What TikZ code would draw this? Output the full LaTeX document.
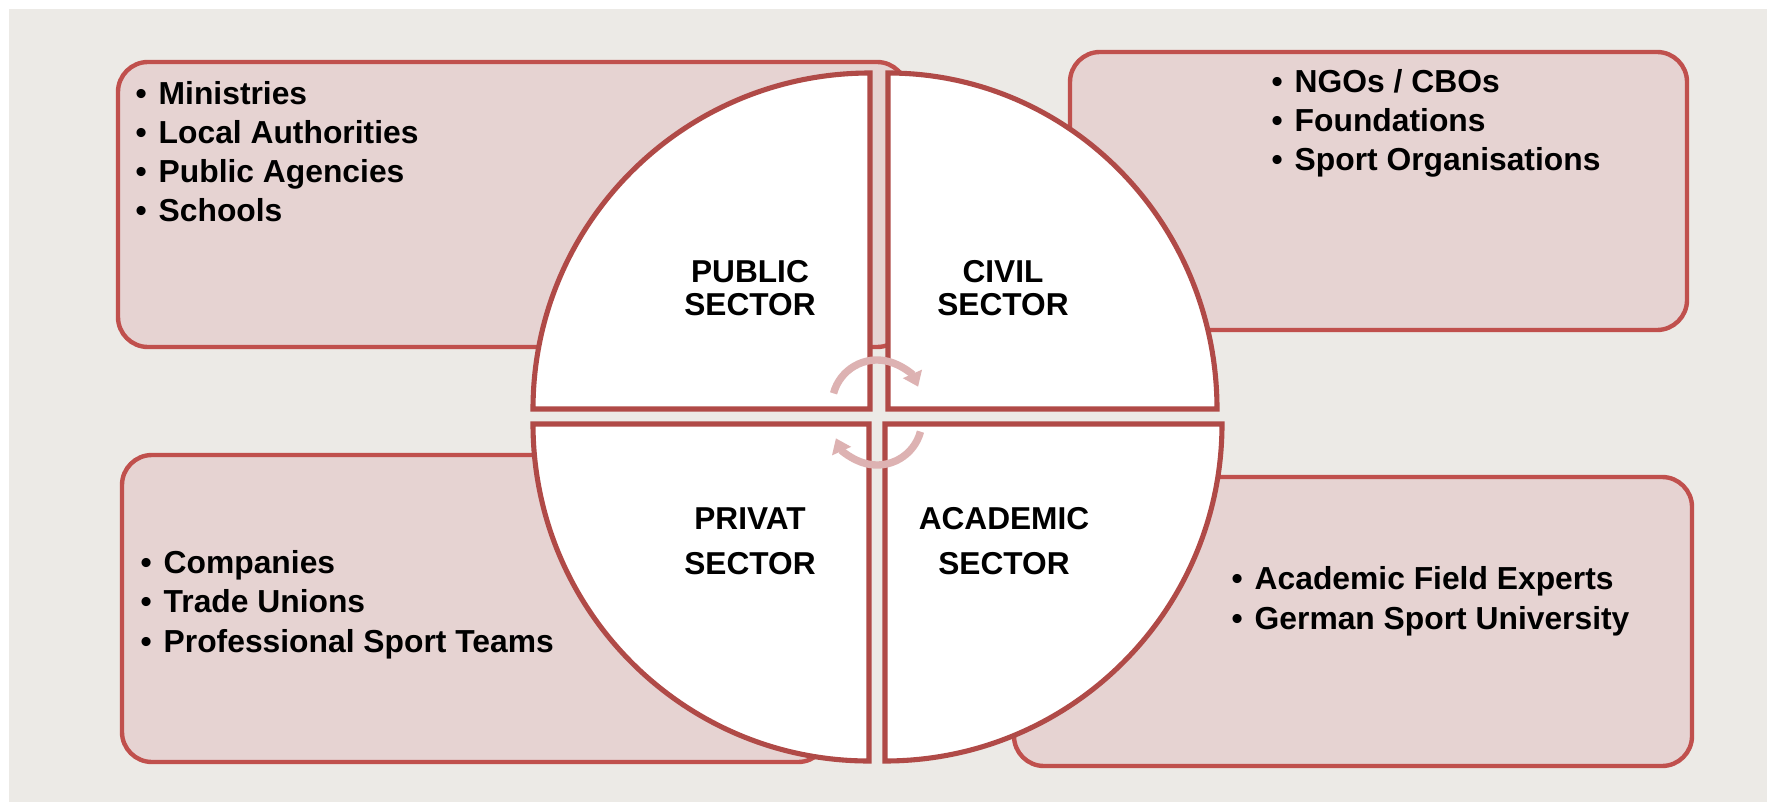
\documentclass[tikz,border=0pt]{standalone}
\usepackage{fontspec}
\setmainfont{Liberation Sans}
\usetikzlibrary{arrows.meta}
\definecolor{bggray}{RGB}{236,234,230}
\definecolor{boxfill}{RGB}{230,211,210}
\definecolor{boxline}{RGB}{192,80,77}
\definecolor{quadline}{RGB}{176,74,71}
\definecolor{cyclecol}{RGB}{221,178,178}
\tikzset{
	sectorbox/.style={draw=boxline, fill=boxfill, line width=1.25pt, rounded corners=0.3cm},
	quadrant/.style={draw=quadline, fill=white, line width=1.45pt},
	listtext/.style={anchor=base west, inner sep=0pt, align=left, font=\fontsize{9.05}{11.1}\selectfont\bfseries},
	sectortext/.style={anchor=base, inner sep=0pt, align=center, font=\fontsize{9.0}{9.4}\selectfont\bfseries},
	cyclearrow/.style={draw=cyclecol, line width=2.1pt, -{Triangle[length=0.14cm, width=0.2cm]}}
}
\newcommand{\itm}{\makebox[0.23cm][l]{\textbullet}}
\begin{document}
\begin{tikzpicture}
		\useasboundingbox (0,0) rectangle (17.67,8.02);
		\fill[bggray] (0.09,0) rectangle (17.67,7.93);
		
		% boxes behind the circle
		\draw[sectorbox] (1.18,4.55) rectangle (9.07,7.40);
		\draw[sectorbox] (10.70,4.72) rectangle (16.87,7.50);
		\draw[sectorbox] (1.22,0.40) rectangle (8.28,3.47);
		\draw[sectorbox] (10.14,0.36) rectangle (16.92,3.25);
		
		% lists, placed at the baseline of their last line
		\node[listtext] (publiclist) at (1.35,5.80) {\itm Ministries\\ \itm Local Authorities\\ \itm Public Agencies\\ \itm Schools};
		\node[listtext] (civillist) at (12.71,6.31) {\itm NGOs / CBOs\\ \itm Foundations\\ \itm Sport Organisations};
		\node[listtext] (privatlist) at (1.40,1.50) {\itm Companies\\ \itm Trade Unions\\ \itm Professional Sport Teams};
		\node[listtext] (academiclist) at (12.31,1.73) {\itm Academic Field Experts\\ \itm German Sport University};
		
		% the four quarters
		\draw[quadrant] (8.70,3.93) -- ++(0,3.36) arc[start angle=90, end angle=180, x radius=3.37, y radius=3.36] -- cycle;
		\draw[quadrant] (8.88,3.93) -- ++(3.29,0) arc[start angle=0, end angle=90, x radius=3.29, y radius=3.36] -- cycle;
		\draw[quadrant] (8.69,3.78) -- ++(-3.36,0) arc[start angle=180, end angle=270, x radius=3.36, y radius=3.37] -- cycle;
		\draw[quadrant] (8.85,3.78) -- ++(0,-3.37) arc[start angle=270, end angle=360, x radius=3.37, y radius=3.37] -- cycle;
		
		\node[sectortext] (public) at (7.50,4.86) {PUBLIC\\ SECTOR};
		\node[sectortext] (civil) at (10.03,4.86) {CIVIL\\ SECTOR};
		\node[sectortext, font=\fontsize{9.0}{12.8}\selectfont\bfseries] (privat) at (7.50,2.28) {PRIVAT\\ SECTOR};
		\node[sectortext, font=\fontsize{9.0}{12.8}\selectfont\bfseries] (academic) at (10.04,2.28) {ACADEMIC\\ SECTOR};
		
		% cycle arrows
		\draw[cyclearrow] (8.77,3.97) ++(165:0.45) arc[start angle=165, end angle=24, radius=0.45];
		\draw[cyclearrow] (8.77,3.82) ++(-15:0.45) arc[start angle=-15, end angle=-156, radius=0.45];
	\end{tikzpicture}
\end{document}
